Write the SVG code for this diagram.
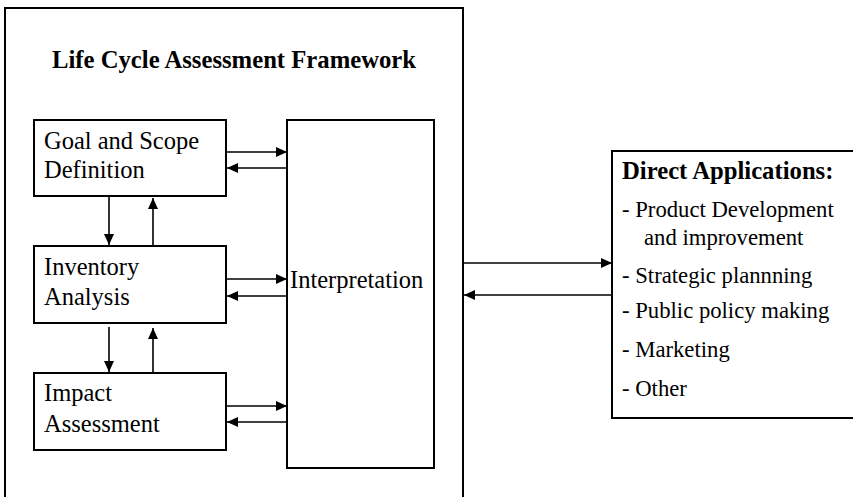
<svg xmlns="http://www.w3.org/2000/svg" width="853" height="497" viewBox="0 0 853 497">
<defs>
<style>
.box{fill:#fff;stroke:#000;stroke-width:2}
.t{font-family:"Liberation Serif","Times New Roman",serif;font-size:24.5px;fill:#000}
.b{font-weight:bold;font-size:24.7px}
.s{font-size:22.7px}
.c{fill:none;stroke:#000;stroke-width:1.6}
</style>
<marker id="ah" markerUnits="userSpaceOnUse" markerWidth="12" markerHeight="10" refX="11" refY="5" orient="auto">
<path d="M0,0 L11,5 L0,10 Z" fill="#000"/>
</marker>
</defs>
<rect width="853" height="497" fill="#fff"/>
<g id="frame">
<rect class="box" x="5" y="8" width="458" height="500"/>
<text class="t b" x="234" y="68" text-anchor="middle">Life Cycle Assessment Framework</text>
</g>
<g id="goal">
<rect class="box" x="34" y="120" width="192" height="76"/>
<text class="t" x="44" y="149">Goal and Scope</text>
<text class="t" x="44" y="178">Definition</text>
</g>
<g id="inventory">
<rect class="box" x="34" y="246" width="192" height="77"/>
<text class="t" x="44" y="275">Inventory</text>
<text class="t" x="44" y="305">Analysis</text>
</g>
<g id="impact">
<rect class="box" x="34" y="373" width="192" height="77"/>
<text class="t" x="44" y="401">Impact</text>
<text class="t" x="44" y="432">Assessment</text>
</g>
<g id="interpretation">
<rect class="box" x="287" y="120" width="147" height="348"/>
<text class="t" x="290" y="288">Interpretation</text>
</g>
<g id="applications">
<rect class="box" x="612" y="151" width="260" height="267"/>
<text class="t b" x="622" y="179">Direct Applications:</text>
<text class="t s" x="622" y="217">- Product Development</text>
<text class="t s" x="644" y="245">and improvement</text>
<text class="t s" x="622" y="283">- Strategic plannning</text>
<text class="t s" x="622" y="318">- Public policy making</text>
<text class="t s" x="622" y="357">- Marketing</text>
<text class="t s" x="622" y="396">- Other</text>
</g>
<g id="connectors">
<line class="c" x1="226" y1="152" x2="287" y2="152" marker-end="url(#ah)"/>
<line class="c" x1="287" y1="168" x2="227" y2="168" marker-end="url(#ah)"/>
<line class="c" x1="226" y1="279" x2="287" y2="279" marker-end="url(#ah)"/>
<line class="c" x1="287" y1="296" x2="227" y2="296" marker-end="url(#ah)"/>
<line class="c" x1="226" y1="406" x2="287" y2="406" marker-end="url(#ah)"/>
<line class="c" x1="287" y1="422" x2="227" y2="422" marker-end="url(#ah)"/>
<line class="c" x1="109" y1="196" x2="109" y2="245" marker-end="url(#ah)"/>
<line class="c" x1="153" y1="245" x2="153" y2="198" marker-end="url(#ah)"/>
<line class="c" x1="109" y1="327" x2="109" y2="372" marker-end="url(#ah)"/>
<line class="c" x1="153" y1="372" x2="153" y2="328" marker-end="url(#ah)"/>
<line class="c" x1="463" y1="263" x2="612" y2="263" marker-end="url(#ah)"/>
<line class="c" x1="612" y1="295" x2="464" y2="295" marker-end="url(#ah)"/>
</g>
</svg>
